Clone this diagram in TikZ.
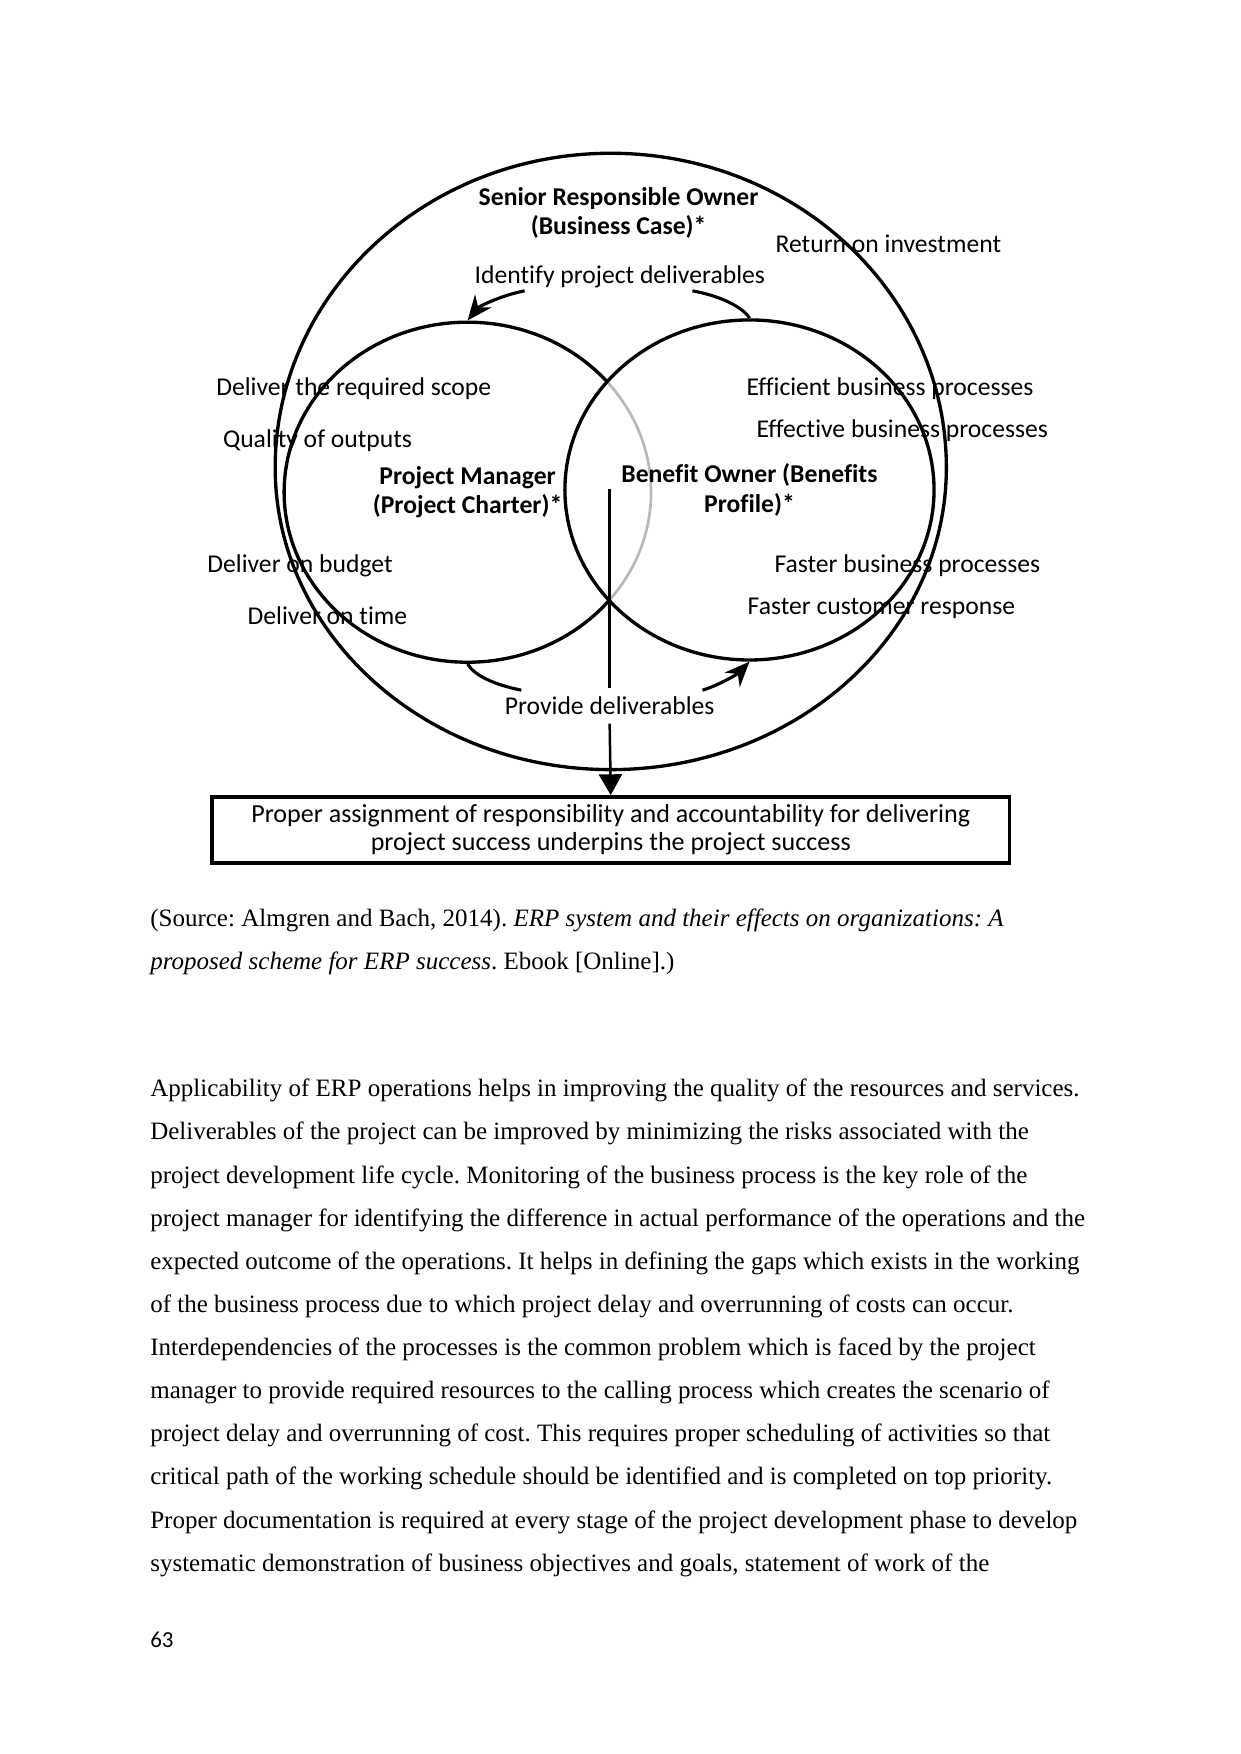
\documentclass[tikz,border=0pt]{standalone}
\usepackage{fontspec}
\setmainfont{Liberation Serif}
\newfontfamily\figfont[Ligatures=NoCommon]{Carlito}
\usetikzlibrary{arrows.meta, positioning, shapes.geometric}
\newcommand{\upx}{0.53677pt}
\frenchspacing
\tikzset{
  rolecirc/.style={ellipse, draw=black, line width=1.6pt, inner sep=0pt, align=center,
                   font=\figfont\bfseries\fontsize{12.3}{14}\selectfont},
  lbl/.style={anchor=west, inner sep=0pt, font=\figfont\fontsize{12.3}{14}\selectfont},
  rolehead/.style={align=center, inner sep=0pt, font=\figfont\bfseries\fontsize{12.3}{14}\selectfont},
  bodytext/.style={anchor=west, inner sep=0pt, font=\fontsize{12}{14}\selectfont},
  arrowline/.style={-{Stealth[length=12pt, width=10pt]}, line width=1.5pt},
  curveline/.style={line width=1.5pt},
  resbox/.style={rectangle, draw=black, line width=1.8pt, fill=white, align=center,
                 minimum width=713*\upx, minimum height=59*\upx,
                 font=\figfont\fontsize{12.5}{13.5}\selectfont},
}
\begin{document}
\begin{tikzpicture}[x=\upx, y=-\upx]
\useasboundingbox (0,0) rectangle (1109,1568);
% outer owner egg
\draw[line width=1.6pt] (846,418) arc[start angle=0, end angle=-180, x radius=300*\upx, y radius=270*\upx]
  arc[start angle=180, end angle=0, x radius=300*\upx, y radius=281*\upx];
\node[rolehead] (sro) at (553,190) {Senior Responsible Owner\\(Business Case)*};
\node[lbl] (roi) at (693,218) {Return on investment};
\node[lbl] (idn) at (424,247) {Identify project deliverables};
% outcome labels
\node[lbl] (scope) at (193,347) {Deliver the required scope};
\node[lbl] (qual) at (199,394) {Quality of outputs};
\node[lbl] (budget) at (185,506) {Deliver on budget};
\node[lbl] (time) at (221,550) {Deliver on time};
\node[lbl] (eff1) at (667,347) {Efficient business processes};
\node[lbl] (eff2) at (676,385) {Effective business processes};
\node[lbl] (fast1) at (692,506) {Faster business processes};
\node[lbl] (fast2) at (668,544) {Faster customer response};
% two role circles
\node[rolecirc, minimum width=328*\upx, minimum height=304*\upx] (pm) at (418,440)
  {Project Manager\\(Project Charter)*};
\coordinate (boc) at (670,438);
\begin{scope}
  \clip (boc) ellipse [x radius=165*\upx, y radius=152*\upx];
  \draw[white, line width=2.6pt] (pm.center) ellipse [x radius=164*\upx, y radius=152*\upx];
  \draw[gray!55, line width=1.3pt] (pm.center) ellipse [x radius=164*\upx, y radius=152*\upx];
\end{scope}
\node[rolecirc, minimum width=330*\upx, minimum height=304*\upx] (bo) at (boc)
  {Benefit Owner (Benefits\\Profile)*};
% deliverable flows
\coordinate (idl) at (469,260);
\coordinate (idr) at (619,260);
\coordinate (pdl) at (466,617);
\coordinate (pdr) at (628,617);
\draw[arrowline] (idl) .. controls (448,264) and (428,274) .. (pm.north);
\draw[curveline] (idr) .. controls (642,264) and (664,274) .. (bo.north);
\draw[curveline] (pm.south) .. controls (424,604) and (442,612) .. (pdl);
\draw[arrowline] (pdr) .. controls (644,612) and (660,602) .. (bo.south);
\node[lbl, anchor=center, inner sep=4pt] (pd) at (545,631) {Provide deliverables};
\node[resbox] (res) at (546,742)
  {Proper assignment of responsibility and accountability for delivering\\project success underpins the project success};
\coordinate (vtop) at (545,437);
\draw[line width=1.2pt] (vtop) -- (pd.north);
\draw[line width=1.2pt, -{Triangle[length=10pt, width=11pt]}] (pd.south) -- (res.north);
% caption and page text
\node[bodytext] (src1) at (134,823) {(Source: Almgren and Bach, 2014). \textit{ERP system and their effects on organizations: A}};
\node[bodytext] (src2) at (134,861) {\textit{proposed scheme for ERP success}. Ebook [Online].)};
\foreach \ln [count=\i from 0] in {
  {Applicability of ERP operations helps in improving the quality of the resources and services.},
  {Deliverables of the project can be improved by minimizing the risks associated with the},
  {project development life cycle. Monitoring of the business process is the key role of the},
  {project manager for identifying the difference in actual performance of the operations and the},
  {expected outcome of the operations. It helps in defining the gaps which exists in the working},
  {of the business process due to which project delay and overrunning of costs can occur.},
  {Interdependencies of the processes is the common problem which is faced by the project},
  {manager to provide required resources to the calling process which creates the scenario of},
  {project delay and overrunning of cost. This requires proper scheduling of activities so that},
  {critical path of the working schedule should be identified and is completed on top priority.},
  {Proper documentation is required at every stage of the project development phase to develop},
  {systematic demonstration of business objectives and goals, statement of work of the}}
  \node[bodytext] (line\i) at (134,975+38.55*\i) {\ln};
\node[lbl, font=\figfont\fontsize{11}{13}\selectfont] (pgno) at (134,1466) {63};
\end{tikzpicture}
\end{document}
